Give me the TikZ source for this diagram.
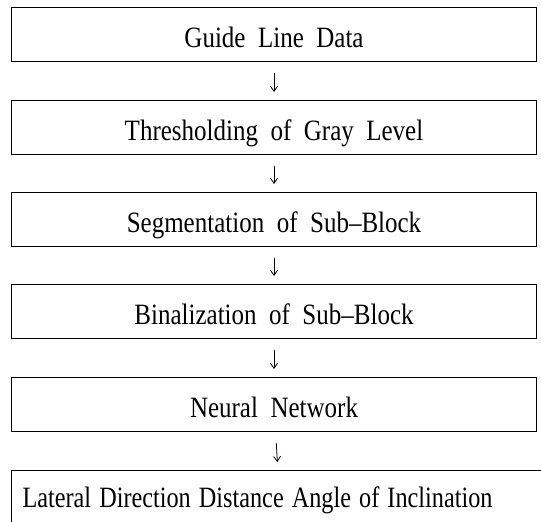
\documentclass[tikz,border=0pt]{standalone}
\usepackage{fontspec}
\setmainfont{Liberation Serif}
\usepackage{graphicx}
\usetikzlibrary{arrows.meta}
\newcommand{\tallt}[1]{\scalebox{1}[1.18]{#1}}
\begin{document}
\begin{tikzpicture}[x=1pt,y=-1pt,
  box/.style={draw, line width=1pt, minimum width=525pt, inner sep=0pt,
    text height=40pt, text depth=14pt, anchor=north west,
    font=\fontsize{25}{28}\selectfont},
  flow/.style={line width=0.8pt, -{Straight Barb[length=5pt,width=7pt]},
    shorten <=11pt, shorten >=8pt}]
\useasboundingbox (0,0) rectangle (541,522);
\clip (0,0) rectangle (541,522);
\node[box] (b1) at (11,7) {\tallt{Guide\ \ Line\ \ Data}};
\node[box] (b2) at (11,100) {\tallt{Thresholding\ \ of\ \ Gray\ \ Level}};
\node[box] (b3) at (11,192) {\tallt{Segmentation\ \ of\ \ Sub--Block}};
\node[box] (b4) at (11,284) {\tallt{Binalization\ \ of\ \ Sub--Block}};
\node[box] (b5) at (11,377) {\tallt{Neural\ \ Network}};
\node[box, text height=37pt, text depth=18pt, text width=514pt, align=left, inner xsep=11pt, minimum width=0pt] (b6) at (11,470)
  {\scalebox{0.97}[1.18]{Lateral Direction Distance Angle of Inclination}};
\draw[flow] (b1) -- (b2);
\draw[flow] (b2) -- (b3);
\draw[flow] (b3) -- (b4);
\draw[flow] (b4) -- (b5);
\draw[flow] (b5) -- (b6);
\end{tikzpicture}
\end{document}
